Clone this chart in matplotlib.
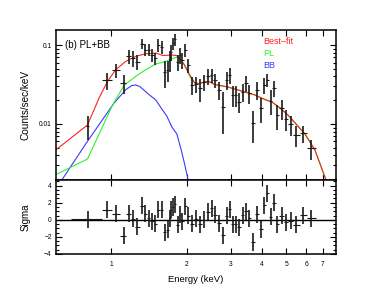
import numpy as np
import matplotlib
matplotlib.use('Agg')
import matplotlib.pyplot as plt
from matplotlib.ticker import FixedLocator, FixedFormatter, NullFormatter, NullLocator, LogLocator, MultipleLocator

plt.rcParams['font.family'] = ['Liberation Sans', 'DejaVu Sans']
plt.rcParams['axes.unicode_minus'] = True

# ---- data ----
energy = [0.802, 0.962, 1.043, 1.119, 1.178, 1.220, 1.268, 1.322, 1.365, 1.407,
          1.452, 1.494, 1.539, 1.585, 1.631, 1.677, 1.714, 1.735, 1.764, 1.797,
          1.837, 1.881, 1.920, 1.968, 2.023, 2.089, 2.174, 2.256, 2.351, 2.434,
          2.512, 2.597, 2.687, 2.795, 2.889, 2.973, 3.056, 3.142, 3.239, 3.351,
          3.451, 3.548, 3.685, 3.830, 3.963, 4.077, 4.193, 4.329, 4.459, 4.605,
          4.786, 4.980, 5.205, 5.475, 5.834, 6.298]
first_bin = (0.69, 0.92)          # as drawn in the residual panel
first_bin_top = (0.79, 0.815)     # as drawn in the spectrum panel
last_bin_hi = 6.55

flux = [0.00935, 0.0357, 0.0479, 0.0330, 0.0719, 0.0684, 0.0609, 0.103, 0.0877, 0.0877,
        0.0747, 0.0684, 0.100, 0.0944, 0.0455, 0.0483, 0.0646, 0.0822, 0.105, 0.118,
        0.0609, 0.0747, 0.0646, 0.0865, 0.0558, 0.0312, 0.0321, 0.0283, 0.0343, 0.0409,
        0.0417, 0.0361, 0.0269, 0.0166, 0.0361, 0.0417, 0.0233, 0.0233, 0.0191, 0.0256,
        0.0327, 0.0245, 0.0102, 0.0269, 0.0160, 0.0312, 0.0361, 0.0197, 0.0283, 0.0130,
        0.0158, 0.0116, 0.00986, 0.00726, 0.00762, 0.00492]
flux_err = [0.0031, 0.0089, 0.0098, 0.0091, 0.0147, 0.0150, 0.0133, 0.0150, 0.0153, 0.0153,
            0.0131, 0.0120, 0.0175, 0.0165, 0.0172, 0.0140, 0.0187, 0.0192, 0.0184, 0.0207,
            0.0142, 0.0174, 0.0151, 0.0151, 0.0114, 0.0077, 0.0075, 0.0091, 0.0080, 0.0095,
            0.0085, 0.0074, 0.0070, 0.0091, 0.0095, 0.0097, 0.0068, 0.0068, 0.0055, 0.0067,
            0.0076, 0.0064, 0.0045, 0.0070, 0.0056, 0.0073, 0.0063, 0.0069, 0.0066, 0.0046,
            0.0046, 0.0034, 0.0029, 0.0021, 0.0018, 0.0014]
sigma = [0.05, 1.15, 0.7, -1.85, 0.7, 0.1, -0.8, 1.65, 0.7, 0.2,
         -0.15, -0.45, 1.15, 1.15, -1.45, -1.15, 0.2, 1.15, 1.5, 1.8,
         -0.6, 0.6, -0.15, 1.6, 0.5, -0.45, 0.1, -0.5, 0.0, 0.95,
         1.35, 0.6, -0.4, -1.8, 0.5, 1.25, -0.5, -0.5, -0.9, 0.55,
         1.0, 0.15, -2.6, 0.65, -1.1, 1.7, 3.1, 0.35, 2.0, -0.5,
         0.45, -0.3, -0.1, -0.6, 0.55, 0.2]

bf_energy = [0.599, 0.802, 0.892, 0.964, 1.040, 1.141, 1.251, 1.371, 1.504, 1.604,
             1.738, 1.820, 1.876, 1.946, 2.057, 2.154, 2.256, 2.362, 2.450, 2.590,
             2.918, 3.414, 3.743, 4.104, 4.377, 4.712, 5.073, 5.511, 5.933, 6.505,
             7.132, 7.468]
bf_flux = [0.00469, 0.00971, 0.0213, 0.0347, 0.0487, 0.0622, 0.0719, 0.0776, 0.0792, 0.0736,
           0.0747, 0.0736, 0.0679, 0.0575, 0.0417, 0.0330, 0.0326, 0.0343, 0.0345, 0.0316,
           0.0294, 0.0254, 0.0233, 0.0204, 0.0190, 0.0160, 0.0130, 0.00971, 0.00747, 0.00469,
           0.00213, 0.00146]

pl_energy = [0.599, 0.802, 1.009, 1.123, 1.251, 1.371, 1.504, 1.634, 1.764, 1.820,
             1.876, 1.964, 2.057, 2.154, 2.256, 2.362, 2.450, 2.590, 2.918, 3.414,
             3.743, 4.104, 4.377, 4.712, 5.073, 5.511, 5.933, 6.505, 7.132, 7.468]
pl_flux = [0.00228, 0.00360, 0.0173, 0.0309, 0.0402, 0.0487, 0.0575, 0.0615, 0.0679, 0.0699,
           0.0646, 0.0558, 0.0397, 0.0327, 0.0326, 0.0343, 0.0345, 0.0316, 0.0294, 0.0254,
           0.0233, 0.0204, 0.0190, 0.0160, 0.0130, 0.00971, 0.00747, 0.00469, 0.00213, 0.00146]

bb_energy = [0.599, 0.637, 0.802, 0.892, 1.024, 1.141, 1.206, 1.251, 1.298, 1.414,
             1.504, 1.589, 1.664, 1.743, 1.825, 1.905, 1.964, 2.025, 2.057]
bb_flux = [0.00164, 0.00201, 0.00604, 0.00980, 0.0184, 0.0272, 0.0307, 0.0312, 0.0298, 0.0235,
           0.0201, 0.0155, 0.0126, 0.00917, 0.00747, 0.00455, 0.00303, 0.00195, 0.00164]

x_ticks = [1, 2, 3, 4, 5, 6, 7]
x_ticklabels = ['1', '2', '3', '4', '5', '6', '7']
y_ticks_top = [0.01, 0.1]
y_ticklabels_top = ['0.01', '0.1']
y_ticks_bot = [-4, -2, 0, 2, 4]

# ---- figure ----
fig = plt.figure(figsize=(3.74, 3.0), dpi=100)
L, W = 56 / 374, 280 / 374
ax1 = fig.add_axes([L, 0.4, W, 0.5])
ax2 = fig.add_axes([L, 1 - 254 / 300, W, 0.4 - (1 - 254 / 300)])

e = np.array(energy)
mid = np.sqrt(e[:-1] * e[1:])
lo = np.concatenate([[first_bin[0]], mid])
hi = np.concatenate([mid, [last_bin_hi]])
hi[0] = first_bin[1]
lo[1] = first_bin[1]
xerr = [e - lo, hi - e]
lo_top, hi_top = lo.copy(), hi.copy()
lo_top[0], hi_top[0] = first_bin_top
xerr_top = [e - lo_top, hi_top - e]

ecol = '#1a1a1a'
red, green, blue = '#ff2020', '#30f030', '#3a3aff'
ax1.errorbar(e, flux, yerr=flux_err, fmt='none', ecolor=ecol, elinewidth=1.2, capsize=0, zorder=3)
ax1.errorbar(e, flux, xerr=xerr_top, fmt='none', ecolor=ecol, elinewidth=0.8, capsize=0, zorder=3)
ax1.plot(bb_energy, bb_flux, color=blue, lw=0.8, zorder=2)
ax1.plot(pl_energy, pl_flux, color=green, lw=0.8, zorder=2)
ax1.plot(bf_energy, bf_flux, color=red, lw=0.8, zorder=2)

ax1.set_xscale('log')
ax1.set_yscale('log')
ax1.set_xlim(0.6, 7.9)
ax1.set_ylim(0.00195, 0.155)

ax2.errorbar(e, sigma, yerr=1.0, fmt='none', ecolor=ecol, elinewidth=1.2, capsize=0, zorder=3)
ax2.errorbar(e, sigma, xerr=xerr, fmt='none', ecolor=ecol, elinewidth=0.8, capsize=0, zorder=3)
ax2.axhline(0, color='black', lw=1.0, zorder=2)
ax2.set_xscale('log')
ax2.set_xlim(0.6, 7.9)
ax2.set_ylim(-4.0, 4.65)

for ax in (ax1, ax2):
    ax.xaxis.set_major_locator(FixedLocator(x_ticks))
    ax.xaxis.set_minor_locator(NullLocator())
    ax.tick_params(which='both', direction='in', top=True, right=True, width=0.8, labelsize=4.8, pad=3)
    ax.tick_params(which='major', length=4)
    ax.tick_params(which='minor', length=2)
    for s in ax.spines.values():
        s.set_linewidth(1.1)

ax1.xaxis.set_major_formatter(NullFormatter())
ax1.yaxis.set_major_locator(FixedLocator(y_ticks_top))
ax1.yaxis.set_major_formatter(FixedFormatter(y_ticklabels_top))
ax1.yaxis.set_minor_locator(LogLocator(base=10, subs=np.arange(2, 10)))
ax1.yaxis.set_minor_formatter(NullFormatter())

ax2.xaxis.set_major_formatter(FixedFormatter(x_ticklabels))
ax2.yaxis.set_major_locator(FixedLocator(y_ticks_bot))
ax2.yaxis.set_minor_locator(MultipleLocator(0.5))
ax2.tick_params(axis='x', pad=5)

ax1.set_ylabel('Counts/sec/keV', fontsize=7.2)
ax1.yaxis.set_label_coords(-0.09, 0.5)
ax2.set_ylabel('Sigma', fontsize=7.0)
ax2.yaxis.set_label_coords(-0.09, 0.5)
ax2.set_xlabel('Energy (keV)', fontsize=6.8, labelpad=5)

ax1.text(0.032, 0.9, '(b) PL+BB', transform=ax1.transAxes, fontsize=7, va='center', ha='left')
ax1.text(0.739, 0.922, 'Best\u2013fit', transform=ax1.transAxes, fontsize=6.5, va='center', ha='left', color=red)
ax1.text(0.739, 0.845, 'PL', transform=ax1.transAxes, fontsize=6.5, va='center', ha='left', color=green)
ax1.text(0.739, 0.762, 'BB', transform=ax1.transAxes, fontsize=6.5, va='center', ha='left', color=blue)

fig.savefig('out.png', dpi=100)
